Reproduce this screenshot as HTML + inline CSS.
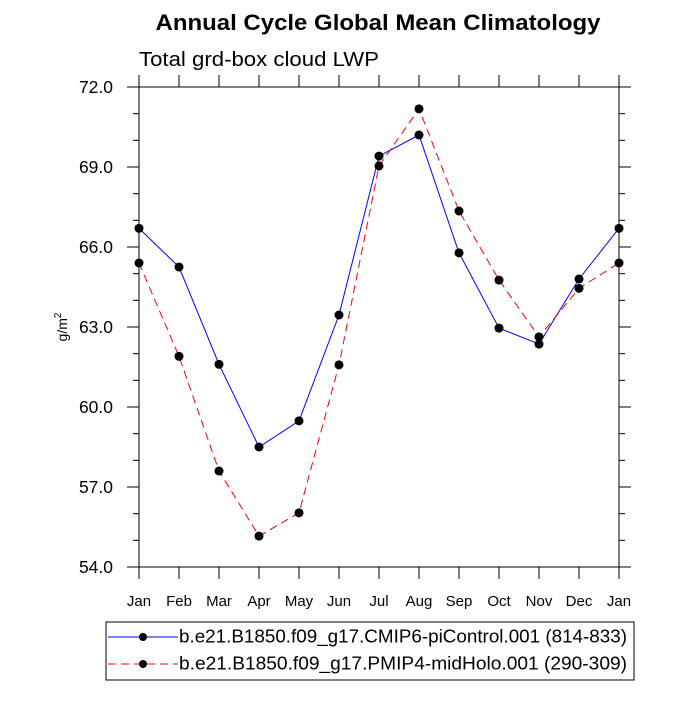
<!DOCTYPE html>
<html><head><meta charset="utf-8"><style>
body{margin:0;background:#fff}
svg text{font-family:"Liberation Sans",sans-serif}
</style></head><body>
<svg id="chart" width="700" height="700">
<text x="378" y="30" text-anchor="middle" font-size="22.5" font-weight="bold" textLength="445" lengthAdjust="spacingAndGlyphs">Annual Cycle Global Mean Climatology</text>
<text x="139" y="66" font-size="20" textLength="240" lengthAdjust="spacingAndGlyphs">Total grd-box cloud LWP</text>
<text transform="translate(67,327) rotate(-90)" text-anchor="middle" font-size="14">g/m<tspan dy="-6" font-size="10">2</tspan></text>
<g id="axes"></g>
<g id="series"></g>
<g>
<rect x="106" y="622" width="528" height="58" fill="none" stroke="#000" stroke-width="1"/>
<line x1="108" y1="637" x2="178" y2="637" stroke="#0000ff" stroke-width="1"/>
<circle cx="143" cy="637" r="4" fill="#000"/>
<text x="179" y="642.5" font-size="18" textLength="448" lengthAdjust="spacingAndGlyphs">b.e21.B1850.f09_g17.CMIP6-piControl.001 (814-833)</text>
<line x1="108" y1="664" x2="178" y2="664" stroke="#ff0000" stroke-width="1" stroke-dasharray="8,5"/>
<circle cx="143" cy="664" r="4" fill="#000"/>
<text x="179" y="669.5" font-size="18" textLength="448" lengthAdjust="spacingAndGlyphs">b.e21.B1850.f09_g17.PMIP4-midHolo.001 (290-309)</text>
</g>
</svg>
<script>
const months = ["Jan","Feb","Mar","Apr","May","Jun","Jul","Aug","Sep","Oct","Nov","Dec","Jan"];
const piControl = [66.7,65.25,61.6,58.5,59.48,63.45,69.41,70.2,65.78,62.96,62.36,64.8,66.7];
const midHolo = [65.4,61.9,57.6,55.16,56.03,61.58,69.04,71.18,67.35,64.76,62.63,64.45,65.4];
const yTicks = [54,57,60,63,66,69,72];
const yTickLabels = ["54.0","57.0","60.0","63.0","66.0","69.0","72.0"];
const L=139,R=619,T=87,B=567,ymin=54,ymax=72;
const xs=i=>L+(R-L)*i/(months.length-1);
const ys=v=>B-(v-ymin)/(ymax-ymin)*(B-T);
const NS="http://www.w3.org/2000/svg";
function mk(tag,attrs,parent){const e=document.createElementNS(NS,tag);for(const k in attrs)e.setAttribute(k,attrs[k]);parent.appendChild(e);return e;}
const ax=document.getElementById('axes');
const frame=mk('rect',{x:L,y:T,width:R-L,height:B-T,fill:'none',stroke:'#000','stroke-width':1},ax);


for(let v=ymin;v<=ymax;v+=1){
  const maj=(v-ymin)%3===0, len=maj?12:6, y=ys(v);
  mk('line',{x1:L-len,y1:y,x2:L,y2:y,stroke:'#000'},ax);
  mk('line',{x1:R,y1:y,x2:R+len,y2:y,stroke:'#000'},ax);
}
yTicks.forEach((v,i)=>{
  const t=mk('text',{x:113,y:ys(v)+6,'text-anchor':'end','font-size':17.5},ax);
  t.textContent=yTickLabels[i];
  
  
});
months.forEach((m,i)=>{
  const x=xs(i);
  mk('line',{x1:x,y1:B,x2:x,y2:B+12,stroke:'#000'},ax);
  mk('line',{x1:x,y1:T-12,x2:x,y2:T,stroke:'#000'},ax);
  const t=mk('text',{x:x,y:606,'text-anchor':'middle','font-size':15},ax);
  t.textContent=m;
  
  
});
const sg=document.getElementById('series');
function draw(vals,color,dash,name){
  const p=mk('polyline',{points:vals.map((v,i)=>xs(i)+','+ys(v)).join(' '),fill:'none',stroke:color,'stroke-width':1,'stroke-dasharray':dash},sg);
  
  
  vals.forEach((v,i)=>{
    const c=mk('circle',{cx:xs(i),cy:ys(v),r:4.5,fill:'#000'},sg);
    
    
  });
}
draw(piControl,'#0000ff','none','picontrol');
draw(midHolo,'#ff0000','8,5','midholo');
</script>
</body></html>
